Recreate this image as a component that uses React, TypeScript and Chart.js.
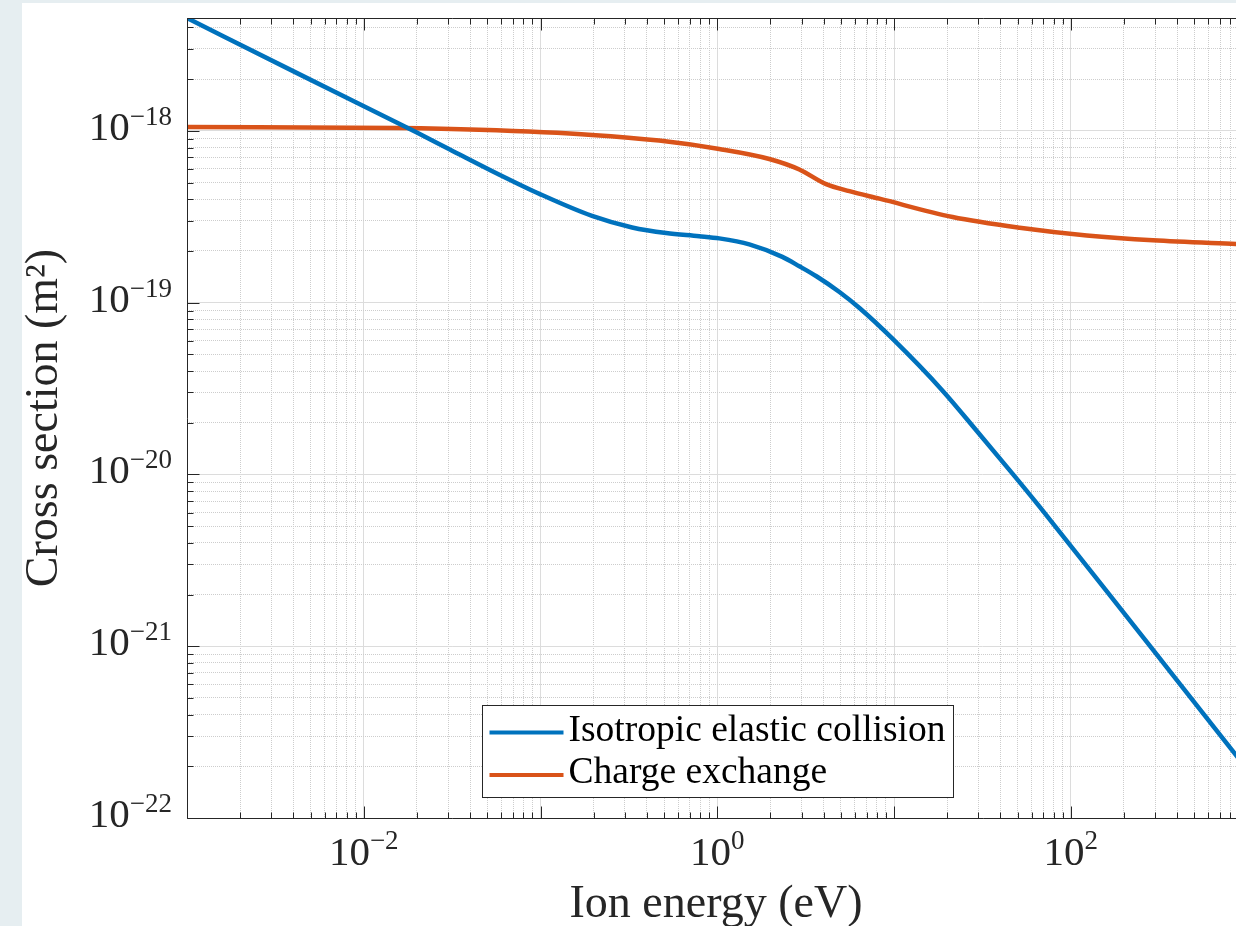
import React, { useEffect, useRef } from "react";
import { Chart, registerables } from "chart.js";

Chart.register(...registerables);

// ---- Data ----
const energyElastic = [0.001, 0.00428, 0.01984, 0.03032, 0.05818, 0.09936, 0.1957, 0.3299, 0.5141, 0.7907, 1.0264, 1.518, 2.335, 2.915, 3.639, 4.912, 6.376, 9.806, 18.83, 29.34, 46.93, 66.75, 160.0, 378.4, 860.8, 1000];
const sigmaElastic = [4.541e-18, 2.147e-18, 9.81e-19, 7.855e-19, 5.58e-19, 4.285e-19, 3.2e-19, 2.74e-19, 2.541e-19, 2.438e-19, 2.367e-19, 2.184e-19, 1.847e-19, 1.629e-19, 1.425e-19, 1.154e-19, 9.31e-20, 6.17e-20, 3.075e-20, 1.796e-20, 1.007e-20, 6.47e-21, 2.087e-21, 6.79e-22, 2.323e-22, 1.91e-22];

const energyCX = [0.001, 0.01579, 0.04483, 0.1957, 0.4693, 1.0264, 1.971, 2.915, 4.13, 5.596, 8.276, 21.45, 51.4, 123.2, 291.5, 860.8, 1000];
const sigmaCX = [1.054e-18, 1.039e-18, 1.0144e-18, 9.478e-19, 8.782e-19, 7.844e-19, 6.862e-19, 5.961e-19, 4.894e-19, 4.457e-19, 4.03e-19, 3.153e-19, 2.733e-19, 2.464e-19, 2.305e-19, 2.194e-19, 2.18e-19];

const seriesLabels = ["Isotropic elastic collision", "Charge exchange"];
const seriesColors = ["#0072BD", "#D95319"];

const xLimits = [1e-3, 1e3];
const yLimits = [1e-22, 4.541e-18];
const xTickExponents = [-2, 0, 2];
const yTickExponents = [-22, -21, -20, -19, -18];

const xTitle = "Ion energy (eV)";
const yTitle = "Cross section (m\u00B2)";

// ---- Styling ----
const FONT = "'Liberation Serif', 'Times New Roman', serif";
const AXIS_COLOR = "#262626";
const CANVAS_W = 1262;
const CANVAS_H = 926;

const isMajor = (v: number) => {
  const l = Math.log10(v);
  return Math.abs(l - Math.round(l)) < 1e-6;
};

function logTicks(min: number, max: number) {
  const out: { value: number }[] = [];
  const e0 = Math.floor(Math.log10(min) + 1e-9);
  const e1 = Math.ceil(Math.log10(max) - 1e-9);
  for (let e = e0; e <= e1; e++) {
    for (let m = 1; m <= 9; m++) {
      const v = m * Math.pow(10, e);
      if (v >= min * (1 - 1e-9) && v <= max * (1 + 1e-9)) out.push({ value: v });
    }
  }
  return out;
}

const fmtExp = (e: number) => (e < 0 ? "\u2212" + Math.abs(e) : String(e));
const al = (p: number) => Math.round(p) + 0.5;

const decorPlugin = {
  id: "decor",
  afterDraw(chart: any) {
    const { ctx, chartArea: a, scales } = chart;
    const xs = scales.x;
    const ys = scales.y;
    const L = al(a.left), R = al(a.right), T = al(a.top), B = al(a.bottom);
    ctx.save();

    // axes box
    ctx.strokeStyle = AXIS_COLOR;
    ctx.lineWidth = 1;
    ctx.setLineDash([]);
    ctx.beginPath();
    ctx.moveTo(L, T); ctx.lineTo(R, T); ctx.lineTo(R, B); ctx.lineTo(L, B); ctx.closePath();
    ctx.stroke();

    // tick marks (inward, on all sides)
    ctx.beginPath();
    xs.ticks.forEach((t: any) => {
      const px = al(xs.getPixelForValue(t.value));
      const len = isMajor(t.value) ? 12 : 6;
      ctx.moveTo(px, B); ctx.lineTo(px, B - len);
      ctx.moveTo(px, T); ctx.lineTo(px, T + len);
    });
    ys.ticks.forEach((t: any) => {
      const py = al(ys.getPixelForValue(t.value));
      const len = isMajor(t.value) ? 12 : 6;
      ctx.moveTo(L, py); ctx.lineTo(L + len, py);
      ctx.moveTo(R, py); ctx.lineTo(R - len, py);
    });
    ctx.stroke();

    // tick labels 10^n
    ctx.fillStyle = "#262626";
    ctx.textBaseline = "alphabetic";
    ctx.textAlign = "left";
    const baseFont = `41px ${FONT}`;
    const supFont = `27px ${FONT}`;
    xTickExponents.forEach((e) => {
      const px = xs.getPixelForValue(Math.pow(10, e));
      ctx.font = baseFont;
      const bw = ctx.measureText("10").width;
      ctx.font = supFont;
      const sup = fmtExp(e);
      const sw = ctx.measureText(sup).width;
      const x0 = px - (bw + sw) / 2;
      ctx.font = baseFont;
      ctx.fillText("10", x0, a.bottom + 47);
      ctx.font = supFont;
      ctx.fillText(sup, x0 + bw, a.bottom + 31);
    });
    yTickExponents.forEach((e) => {
      const py = ys.getPixelForValue(Math.pow(10, e));
      ctx.font = baseFont;
      const bw = ctx.measureText("10").width;
      ctx.font = supFont;
      const sup = fmtExp(e);
      const sw = ctx.measureText(sup).width;
      const right = a.left - 15;
      ctx.font = baseFont;
      ctx.fillText("10", right - sw - bw, py + 9);
      ctx.font = supFont;
      ctx.fillText(sup, right - sw, py - 6);
    });

    // axis titles
    ctx.font = `46px ${FONT}`;
    ctx.textAlign = "center";
    ctx.fillText(xTitle, (a.left + Math.min(a.right, 1236)) / 2 + 4.5, a.bottom + 99);
    ctx.save();
    ctx.translate(57, (a.top + a.bottom) / 2);
    ctx.rotate(-Math.PI / 2);
    ctx.fillText(yTitle, 0, 0);
    ctx.restore();

    // legend (south, inside)
    const legFont = `37.5px ${FONT}`;
    ctx.font = legFont;
    const ds = chart.data.datasets;
    let tw = 0;
    ds.forEach((d: any) => { tw = Math.max(tw, ctx.measureText(d.label).width); });
    const lw = 86 + tw + 8;
    const lh = 92;
    const lcx = (a.left + a.right) / 2;
    const lx = Math.round(lcx - lw / 2) + 0.5;
    const ly = Math.round(a.bottom - 21 - lh) + 0.5;
    ctx.fillStyle = "#ffffff";
    ctx.fillRect(lx, ly, lw, lh);
    ctx.strokeStyle = AXIS_COLOR;
    ctx.lineWidth = 1;
    ctx.strokeRect(lx, ly, lw, lh);
    ds.forEach((d: any, i: number) => {
      const rowY = ly + 27 + i * 42.5;
      ctx.strokeStyle = d.borderColor;
      ctx.lineWidth = 4;
      ctx.beginPath();
      ctx.moveTo(lx + 7, rowY);
      ctx.lineTo(lx + 81, rowY);
      ctx.stroke();
      ctx.fillStyle = "#000000";
      ctx.textAlign = "left";
      ctx.textBaseline = "alphabetic";
      ctx.font = legFont;
      ctx.fillText(d.label, lx + 86, ly + 35 + i * 42.5);
    });

    ctx.restore();
  },
};

const gridColor = (c: any) => (c.tick && isMajor(c.tick.value) ? "#dcdcdc" : "#cdcdcd");
const gridDash = (c: any) => (c.tick && isMajor(c.tick.value) ? [] : [1, 1]);

export default function App() {
  const ref = useRef<HTMLCanvasElement>(null);

  useEffect(() => {
    const canvas = ref.current;
    if (!canvas) return;
    const chart = new Chart(canvas, {
      type: "line",
      data: {
        datasets: [
          {
            label: seriesLabels[0],
            data: energyElastic.map((x, i) => ({ x, y: sigmaElastic[i] })),
            borderColor: seriesColors[0],
            backgroundColor: seriesColors[0],
            borderWidth: 4.5,
            pointRadius: 0,
            cubicInterpolationMode: "monotone",
            fill: false,
          },
          {
            label: seriesLabels[1],
            data: energyCX.map((x, i) => ({ x, y: sigmaCX[i] })),
            borderColor: seriesColors[1],
            backgroundColor: seriesColors[1],
            borderWidth: 4.5,
            pointRadius: 0,
            cubicInterpolationMode: "monotone",
            fill: false,
          },
        ],
      },
      options: {
        animation: false,
        responsive: false,
        devicePixelRatio: 1,
        events: [],
        layout: { padding: { left: 0, top: 18, right: CANVAS_W - 1247.5, bottom: 0 } },
        plugins: {
          legend: { display: false },
          tooltip: { enabled: false },
          title: { display: false },
        },
        scales: {
          x: {
            type: "logarithmic",
            min: xLimits[0],
            max: xLimits[1],
            bounds: "data",
            afterBuildTicks: (s: any) => { s.ticks = logTicks(s.min, s.max); },
            afterFit: (s: any) => { s.height = CANVAS_H - 818; },
            ticks: { display: false, autoSkip: false },
            grid: { drawTicks: false, color: gridColor, lineWidth: 1 },
            border: { display: false, dash: gridDash },
          },
          y: {
            type: "logarithmic",
            min: yLimits[0],
            max: yLimits[1],
            bounds: "data",
            afterBuildTicks: (s: any) => { s.ticks = logTicks(s.min, s.max); },
            afterFit: (s: any) => { s.width = 187; },
            ticks: { display: false, autoSkip: false },
            grid: { drawTicks: false, color: gridColor, lineWidth: 1 },
            border: { display: false, dash: gridDash },
          },
        },
      } as any,
      plugins: [decorPlugin],
    });
    return () => chart.destroy();
  }, []);

  return (
    <div
      style={{
        position: "absolute",
        left: 0,
        top: 0,
        width: 1236,
        height: 926,
        overflow: "hidden",
        background: "#e6eef1",
      }}
    >
      <div style={{ position: "absolute", left: 22, top: 3, right: 0, bottom: 0, background: "#ffffff" }} />
      <canvas
        ref={ref}
        width={CANVAS_W}
        height={CANVAS_H}
        style={{ position: "absolute", left: 0, top: 0, width: CANVAS_W, height: CANVAS_H, display: "block" }}
      />
    </div>
  );
}
